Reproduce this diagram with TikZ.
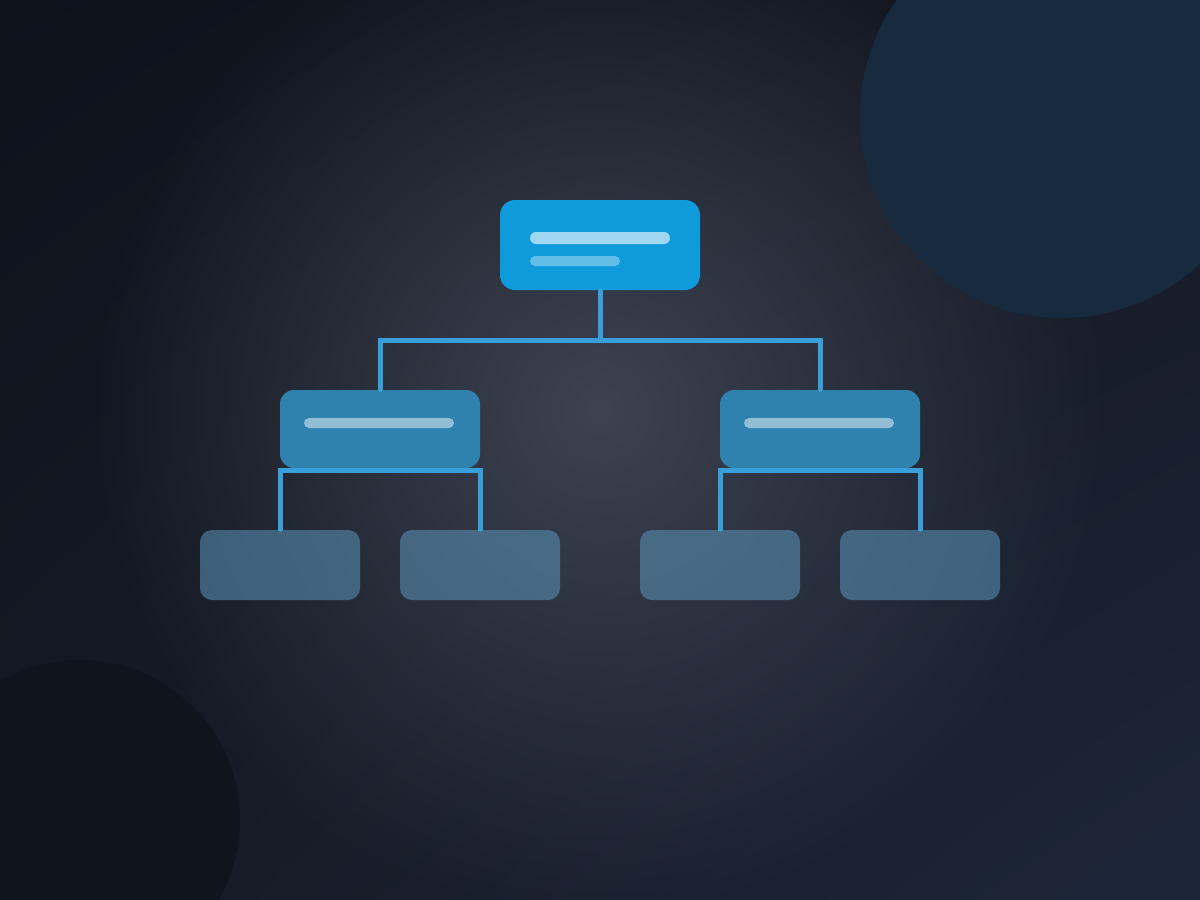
\documentclass[tikz,border=0pt]{standalone}
\usepackage{tikz}
\usetikzlibrary{positioning}
\usetikzlibrary{shadings}
\usetikzlibrary{fadings}
\definecolor{bg_dark}{HTML}{0E121B}
\definecolor{bg_right}{HTML}{141923}
\definecolor{bg_left}{HTML}{151A24}
\definecolor{bg_corner}{HTML}{1D2639}
\definecolor{glow_center}{HTML}{3E4352}
\definecolor{blob_blue}{HTML}{182A3D}
\definecolor{blob_dark}{HTML}{0F141D}
\definecolor{root_blue}{HTML}{0F9BDB}
\definecolor{mid_blue}{HTML}{2F82AD}
\definecolor{leaf_blue}{HTML}{5A93B8}
\definecolor{link_blue}{HTML}{3A9FD8}
\tikzfading[name=glow_fade, inner color=transparent!0, outer color=transparent!100]
\tikzset{
  root_box/.style={rectangle, rounded corners = 0.15cm, fill=root_blue, minimum width = 2cm, minimum height = 0.9cm, inner sep = 0},
  mid_box/.style={rectangle, rounded corners = 0.14cm, fill=mid_blue, minimum width = 2cm, minimum height = 0.78cm, inner sep = 0},
  leaf_box/.style={rectangle, rounded corners = 0.12cm, fill=leaf_blue, fill opacity = 0.56, minimum width = 1.6cm, minimum height = 0.7cm, inner sep = 0},
  link/.style={line width = 0.05cm, line cap = round, color = link_blue},
  bar_main/.style={fill=white, fill opacity = 0.6, rounded corners = 0.06cm},
  bar_sub/.style={fill=white, fill opacity = 0.35, rounded corners = 0.05cm},
  bar_mid/.style={fill=white, fill opacity = 0.48, rounded corners = 0.05cm}}
\begin{document}
\begin{tikzpicture}

\useasboundingbox (0,0) rectangle (12,-9);
\clip (0,0) rectangle (12,-9);

%%% background
\shade[upper left = bg_dark, upper right = bg_right, lower left = bg_left, lower right = bg_corner] (0,0) rectangle (12,-9);
\fill[glow_center, path fading = glow_fade] (6,-4.1) circle (5.1);
\fill[blob_blue] (10.62,-1.16) circle (2.02);
\fill[blob_dark] (0.8,-8.2) circle (1.6);

%%% tree nodes
\node[root_box] at (6,-2.45) (top_box) {};
\node[mid_box] at (3.8,-4.29) (mid_left) {};
\node[mid_box] at (8.2,-4.29) (mid_right) {};
\node[leaf_box] at (2.8,-5.65) (leaf_1) {};
\node[leaf_box] at (4.8,-5.65) (leaf_2) {};
\node[leaf_box] at (7.2,-5.65) (leaf_3) {};
\node[leaf_box] at (9.2,-5.65) (leaf_4) {};

%%% bars inside the boxes
\fill[bar_main] (5.3,-2.32) rectangle (6.7,-2.44);
\fill[bar_sub] (5.3,-2.56) rectangle (6.2,-2.66);
\fill[bar_mid] (3.04,-4.18) rectangle (4.54,-4.28);
\fill[bar_mid] (7.44,-4.18) rectangle (8.94,-4.28);

%%% links
\coordinate (split_top) at (6,-3.4);
\draw[link] (top_box.south) -- (split_top);
\draw[link] (mid_left.north) |- (split_top) -| (mid_right.north);
\draw[link] (leaf_1.north) |- ([yshift=-0.015cm]mid_left.south) -| (leaf_2.north);
\draw[link] (leaf_3.north) |- ([yshift=-0.015cm]mid_right.south) -| (leaf_4.north);

\end{tikzpicture}
\end{document}
